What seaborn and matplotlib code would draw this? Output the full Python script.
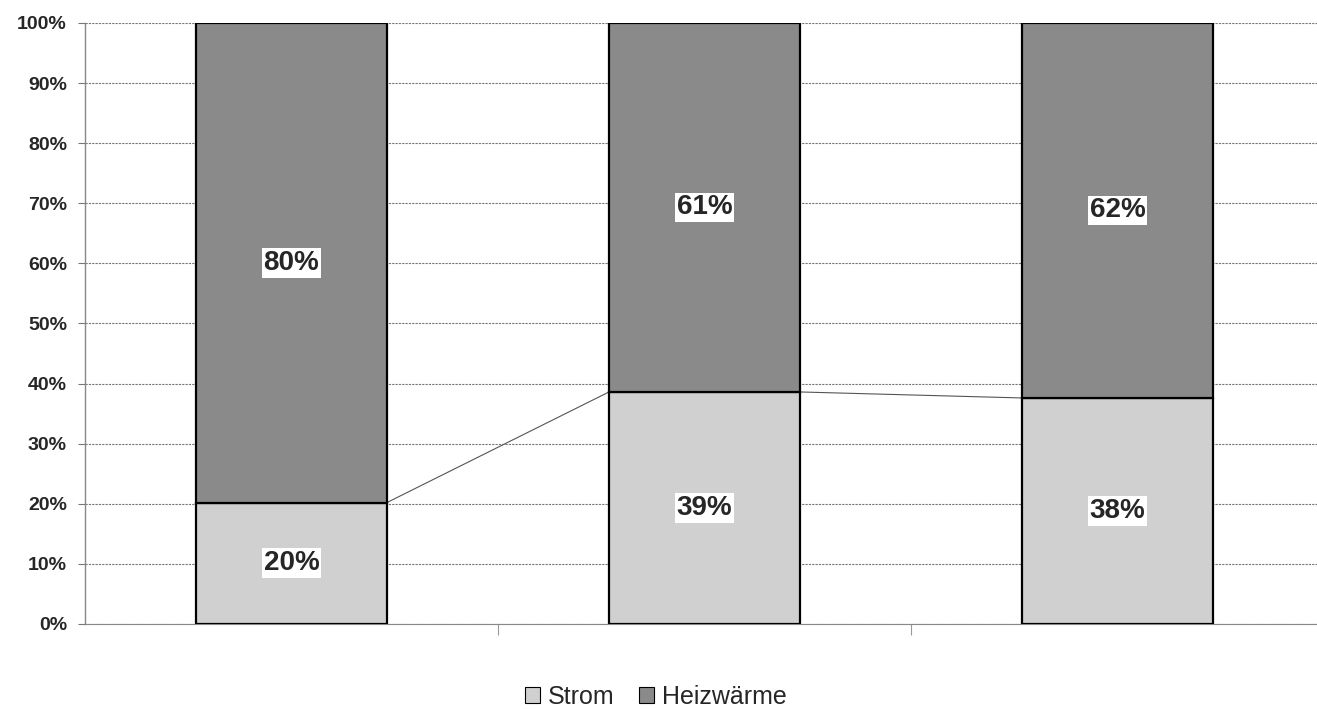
"""Stacked 100% bars: share of Strom vs Heizwärme."""

import matplotlib

matplotlib.use("Agg")
import matplotlib.pyplot as plt
import pandas as pd
import seaborn as sns
from matplotlib.patches import Patch
from matplotlib.ticker import FuncFormatter, MultipleLocator

# values (percent)
categories = ["A", "B", "C"]
strom = [20.2, 38.6, 37.6]
heizwaerme = [79.8, 61.4, 62.4]
series_names = ["Strom", "Heizwärme"]
series_colors = ["#d0d0d0", "#8a8a8a"]

sns.set_theme(style="white")
plt.rcParams["font.family"] = ["Liberation Sans", "DejaVu Sans"]

df = pd.DataFrame({"cat": categories, "Strom": strom, "Heizwärme": heizwaerme})

fig = plt.figure(figsize=(13.17, 7.09), dpi=100)
ax = fig.add_axes([85 / 1317, 0.12, 1239 / 1317, 0.8476])

bar_width = 0.4625
sns.barplot(data=df, x="cat", y="Strom", color=series_colors[0], width=bar_width,
            edgecolor="black", linewidth=1.6, saturation=1, ax=ax, zorder=3)
sns.barplot(data=df, x="cat", y="Heizwärme", bottom=df["Strom"], color=series_colors[1],
            width=bar_width, edgecolor="black", linewidth=1.6, saturation=1, ax=ax, zorder=3)

# series lines joining the tops of the Strom segments
for i in range(len(categories) - 1):
    ax.plot([i + bar_width / 2, i + 1 - bar_width / 2], [strom[i], strom[i + 1]],
            color="#555555", linewidth=0.8, zorder=2)

# segment labels
for i in range(len(categories)):
    bbox = dict(facecolor="white", edgecolor="none", pad=1.5)
    ax.text(i, strom[i] / 2, f"{round(strom[i])}%", ha="center", va="center",
            fontsize=20, fontweight="bold", bbox=bbox, zorder=4)
    ax.text(i, strom[i] + heizwaerme[i] / 2, f"{round(heizwaerme[i])}%", ha="center",
            va="center", fontsize=20, fontweight="bold", bbox=bbox, zorder=4)

ax.set_xlim(-0.5, 2.5)
ax.set_ylim(0, 100)
ax.yaxis.set_major_locator(MultipleLocator(10))
ax.yaxis.set_major_formatter(FuncFormatter(lambda v, _: f"{v:.0f}%"))
ax.grid(axis="y", color="#777777", linestyle=(0, (2, 1)), linewidth=0.8, zorder=0)
ax.set_xticks([0.5, 1.5])
ax.set_xticklabels([])
ax.set_xlabel("")
ax.set_ylabel("")
ax.tick_params(axis="y", labelsize=14, length=5, width=0.8, color="#777777", pad=8, left=True)
ax.tick_params(axis="x", length=8, width=0.8, color="#999999", bottom=True)
for lbl in ax.get_yticklabels():
    lbl.set_fontweight("bold")

for side in ["top", "right"]:
    ax.spines[side].set_visible(False)
ax.spines["left"].set_color("#888888")
ax.spines["left"].set_linewidth(1.0)
ax.spines["bottom"].set_color("#888888")
ax.spines["bottom"].set_linewidth(0.8)

handles = [Patch(facecolor=c, edgecolor="black", linewidth=0.8) for c in series_colors]
fig.legend(handles, series_names, loc="center", bbox_to_anchor=(0.498, 0.017), ncol=2,
           frameon=False, fontsize=18, handlelength=0.6, handleheight=0.6,
           handletextpad=0.3, columnspacing=1.0)

fig.savefig("out.png", dpi=100)
